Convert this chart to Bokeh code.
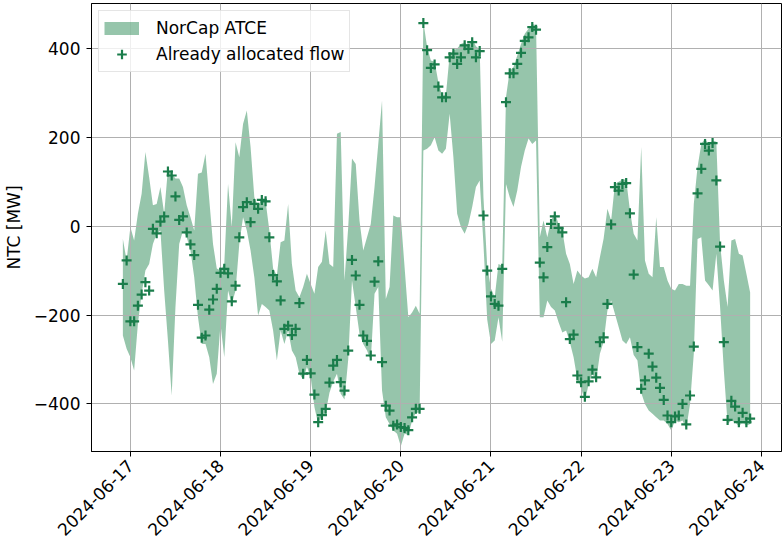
import math
import pandas as pd
from bokeh.plotting import figure
from bokeh.models import (ColumnDataSource, Range1d, FixedTicker, DatetimeTickFormatter,
                          Legend, LegendItem)
from bokeh.embed import file_html
from bokeh.resources import INLINE

# ---------------- data (hourly, UTC) ----------------
start_time = "2024-06-16 22:00"
n_hours = 168

ntc_upper = [
    -29, -77, -2, -32, 28, 73, 167, 110, 47, 50, 88, 28, 129, 118, 107, 107, 88, 47, 20, -10,
    118, 121, 163, 60, -40, -95, -100, -85, 95, -2, 189, 155, 230, 260, 178, 65, 45, 62, 56, -10,
    -95, -111, -36, -32, 50, -85, -145, -160, -137, -107, -130, -152, -92, -80, -10, -85, -92, 208, 212, -122,
    -2, 152, 140, 13, -55, -25, 5, 88, 185, 283, -164, -137, 24, 20, 20, -92, -205, -194, -179, -197,
    460, 403, 373, 370, 324, 294, 295, 385, 396, 400, 410, 414, 405, 422, 405, 398, 65, -90, -140, -160,
    -85, -89, 290, 350, 358, 384, 410, 433, 444, 455, 452, -25, 13, -25, 13, 30, 5, -10, -62, -85,
    -130, -100, -111, -118, -115, -96, -115, -70, -28, 39, 13, 95, 100, 105, 105, 35, -17, -32, 178, -77,
    -107, -115, 20, -92, -92, -122, -141, -145, -130, -130, -134, -134, 50, 133, 185, 197, 182, 193, 190, -40,
    -122, -182, -32, -29, -62, -66, -107, -149,
]

ntc_lower = [
    -246, -276, -295, -325, -220, -152, -100, -85, -40, -17, -10, -145, -257, -381, -182, -40, -10, -25, -55, -115,
    -205, -265, -265, -295, -355, -332, -220, -295, -145, -175, -145, -40, 20, -10, -55, -115, -201, -175, -182, -190,
    -235, -302, -235, -265, -235, -280, -295, -332, -345, -317, -340, -407, -445, -426, -420, -375, -350, -332, -377, -390,
    -300, -122, -182, -242, -265, -280, -302, -152, -137, -370, -430, -445, -460, -467, -495, -467, -470, -438, -420, -420,
    170, 174, 182, 200, 170, 163, 174, 253, 155, 28, -2, -17, 5, 43, 88, 103, -40, -210, -265, -257,
    -205, -260, 95, 65, 43, 80, 133, 170, 197, 185, 193, -205, -205, -167, -182, -190, -216, -239, -235, -261,
    -295, -345, -363, -395, -355, -332, -347, -287, -260, -190, -167, -197, -227, -257, -265, -250, -290, -302, -375, -400,
    -415, -422, -430, -437, -437, -445, -460, -437, -441, -437, -455, -400, -287, -29, -25, -122, -133, -145, -62, -182,
    -325, -445, -437, -441, -450, -441, -449, -445,
]

allocated_flow = [
    -130, -77, -214, -214, -179, -154, -126, -145, -6, -16, 10, 22, 123, 114, 67, 14, 22, -14, -41, -65,
    -177, -251, -246, -188, -165, -141, -105, -96, -106, -169, -134, -25, 43, 54, 9, 50, 39, 59, 56, -25,
    -110, -124, -167, -231, -224, -245, -231, -173, -332, -301, -331, -379, -441, -425, -411, -352, -314, -301, -351, -370,
    -280, -76, -111, -177, -246, -258, -291, -125, -79, -306, -404, -415, -449, -446, -452, -454, -459, -430, -411, -411,
    457, 396, 356, 364, 314, 290, 290, 380, 388, 365, 380, 407, 399, 414, 380, 394, 24, -100, -158, -175,
    -179, -96, 279, 344, 344, 365, 390, 417, 425, 448, 442, -82, -115, -47, 5, 22, -4, -14, -171, -254,
    -244, -336, -351, -384, -349, -323, -340, -261, -250, -175, 4, 88, 80, 95, 97, 29, -109, -272, -366, -347,
    -287, -316, -341, -364, -391, -426, -441, -428, -426, -400, -446, -381, -271, 74, 129, 185, 170, 187, 103, -46,
    -261, -436, -393, -406, -441, -420, -441, -433,
]

y_ticks = [-400, -200, 0, 200, 400]
y_tick_labels = ["\u2212400", "\u2212200", "0", "200", "400"]
x_tick_days = ["2024-06-17", "2024-06-18", "2024-06-19", "2024-06-20",
               "2024-06-21", "2024-06-22", "2024-06-23", "2024-06-24"]

series_labels = ["NorCap ATCE", "Already allocated flow"]

# ---------------- build ----------------
times = pd.date_range(start_time, periods=n_hours, freq="h")
src = ColumnDataSource(dict(t=times, upper=ntc_upper, lower=ntc_lower, flow=allocated_flow))

def ms(ts):
    return pd.Timestamp(ts).value / 1e6

span = ms(times[-1]) - ms(times[0])
pad = 0.05 * span
x_range = Range1d(ms(times[0]) - pad, ms(times[-1]) + pad)

FONT = "DejaVu Sans"
FS = "17px"
FILL = "#2e8b57"
MARK = "#1a7d4b"

p = figure(width=782, height=546, x_axis_type="datetime", output_backend="svg",
           toolbar_location=None, x_range=x_range, y_range=Range1d(-507, 501),
           min_border_left=89, min_border_right=1, min_border_top=3, min_border_bottom=95,
           background_fill_color="white", border_fill_color="white")

band = p.varea(x="t", y1="lower", y2="upper", source=src,
               fill_color=FILL, fill_alpha=0.5)
band.level = "image"
pts = p.scatter(x="t", y="flow", source=src, marker="cross", size=10,
                line_width=2.2, line_color=MARK)

# legend-only proxy for the band (thick line gives a flat rectangle swatch);
# its single point has no y value, so nothing is drawn inside the plot
proxy_src = ColumnDataSource(dict(x=[ms(times[0])], y=[float("nan")]))
band_proxy = p.line(x="x", y="y", source=proxy_src, line_color=FILL, line_alpha=0.5,
                    line_width=13, line_cap="butt")

# axes
p.xaxis.ticker = FixedTicker(ticks=[ms(d) for d in x_tick_days])
fmt = "%Y-%m-%d"
p.xaxis.formatter = DatetimeTickFormatter(days=fmt, months=fmt, hours=fmt, hourmin=fmt,
                                          minutes=fmt, years=fmt)
p.xaxis.major_label_orientation = math.pi / 4
p.yaxis.ticker = FixedTicker(ticks=y_ticks)
p.yaxis.major_label_overrides = {t: l for t, l in zip(y_ticks, y_tick_labels)}
p.yaxis.axis_label = "NTC [MW]"
p.yaxis.axis_label_text_font_style = "normal"
p.yaxis.axis_label_text_font = FONT
p.yaxis.axis_label_text_font_size = FS
p.yaxis.axis_label_standoff = 7
p.yaxis.axis_label_text_color = "black"

for ax in (p.xaxis, p.yaxis):
    ax.major_label_text_font = FONT
    ax.major_label_text_font_size = FS
    ax.major_label_text_color = "black"
    ax.axis_line_color = "black"
    ax.axis_line_width = 1
    ax.major_tick_line_color = "black"
    ax.major_tick_out = 5
    ax.major_tick_in = 0
    ax.minor_tick_line_color = None
    ax.major_label_standoff = 6

p.grid.grid_line_color = "#b0b0b0"
p.grid.grid_line_width = 1
p.outline_line_color = "black"
p.outline_line_width = 1

legend = Legend(items=[LegendItem(label=series_labels[0], renderers=[band_proxy]),
                       LegendItem(label=series_labels[1], renderers=[pts])],
                location="top_left")
legend.margin = 7
legend.label_text_font = FONT
legend.label_text_font_size = FS
legend.label_text_color = "black"
legend.glyph_width = 35
legend.glyph_height = 24
legend.label_height = 20
legend.spacing = 2
legend.padding = 5
legend.label_standoff = 17
legend.border_line_color = "#cccccc"
legend.border_line_width = 1
legend.background_fill_alpha = 0.8
p.add_layout(legend)

open("out.html", "w").write(file_html(p, INLINE))
